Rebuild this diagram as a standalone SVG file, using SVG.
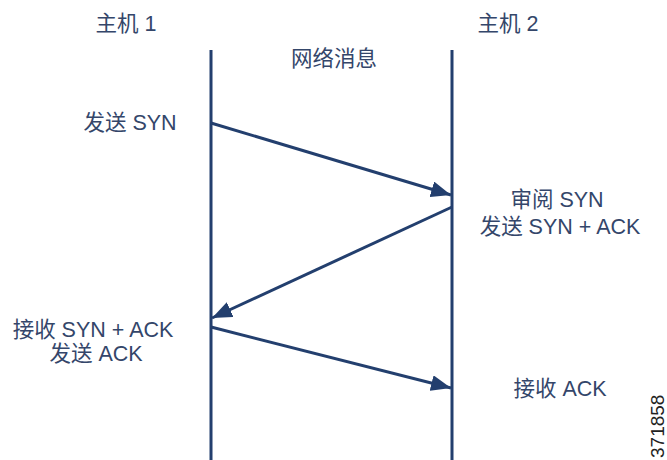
<svg xmlns="http://www.w3.org/2000/svg" width="667" height="460" viewBox="0 0 667 460">
<style>
text{font-family:"Liberation Sans","Noto Sans CJK SC",sans-serif;font-size:21.5px;fill:#34466a}
.c{text-anchor:middle}
.ln{stroke:#233f6e;stroke-width:3;fill:none}
</style>
<defs>
<marker id="a" viewBox="0 0 20 16" refX="20" refY="8" markerWidth="20" markerHeight="16" orient="auto" markerUnits="userSpaceOnUse">
<path d="M0,0 L20,8 L0,16 Z" fill="#233f6e"/>
</marker>
</defs>
<rect width="667" height="460" fill="#fff"/>
<g id="host1">
<text x="126" y="31" class="c">主机 1</text>
<line class="ln" x1="211" y1="50" x2="211" y2="460"/>
</g>
<g id="host2">
<text x="508" y="31" class="c">主机 2</text>
<line class="ln" x1="452" y1="50" x2="452" y2="460"/>
</g>
<g id="network"><text x="334" y="66" class="c">网络消息</text></g>
<g id="labels">
<text x="130" y="130" class="c">发送 SYN</text>
<text x="557" y="207" class="c">审阅 SYN</text>
<text x="560" y="234" class="c">发送 SYN + ACK</text>
<text x="93" y="337" class="c">接收 SYN + ACK</text>
<text x="96" y="361" class="c">发送 ACK</text>
<text x="560" y="396" class="c">接收 ACK</text>
<text x="0" y="0" transform="translate(664,458) rotate(-90)" style="font-size:19px;fill:#222">371858</text>
</g>
<g id="connectors">
<line class="ln" x1="211" y1="123" x2="451" y2="195" marker-end="url(#a)"/>
<line class="ln" x1="452" y1="207" x2="212" y2="318" marker-end="url(#a)"/>
<line class="ln" x1="211" y1="327" x2="451" y2="388" marker-end="url(#a)"/>
</g>
</svg>
